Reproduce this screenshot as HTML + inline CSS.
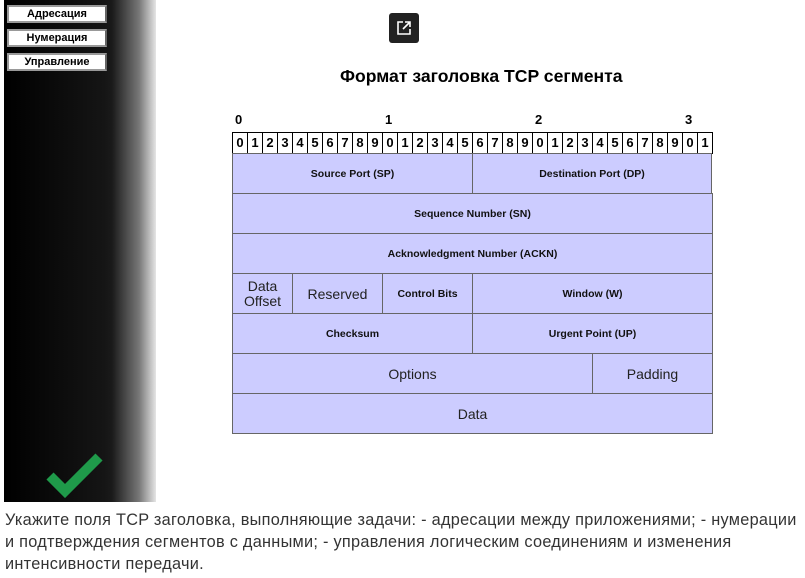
<!DOCTYPE html>
<html><head><meta charset="utf-8"><style>
body{margin:0;width:805px;height:578px;background:#fff;position:relative;overflow:hidden;font-family:"Liberation Sans",sans-serif}
.a{position:absolute;box-sizing:border-box}
.panel{left:4px;top:0;width:152px;height:502px;background:linear-gradient(to right,#000 0,#151515 100px,#1a1a1a 108px,#777 135px,#fff 156px)}
.btn{left:7px;width:100px;height:18px;background:#fff;border:2px solid #999;border-right:2px solid #666;font-size:11px;font-weight:bold;text-align:center;line-height:14px;color:#000}
.c{background:#ccccff;border:1px solid #666;display:flex;align-items:center;justify-content:center;text-align:center;font-size:10.5px;font-weight:bold;color:#111}
.n{font-weight:normal;font-size:14px;color:#222}
.bit{top:132px;height:22px;width:16px;border:1px solid #000;font-size:13px;font-weight:bold;text-align:center;line-height:20px;background:#fff}
.top{top:112px;font-size:13px;font-weight:bold}
</style></head><body>
<div class="a panel"></div>
<div class="a btn" style="top:5px">Адресация</div>
<div class="a btn" style="top:29px">Нумерация</div>
<div class="a btn" style="top:53px">Управление</div>
<svg class="a" style="left:44px;top:448px" width="62" height="50"><polyline points="6,28 21,43 55,9" fill="none" stroke="#1f9a4a" stroke-width="10"/></svg>
<div class="a" style="left:389px;top:13px;width:30px;height:30px;background:#222;border-radius:3px"></div>
<svg class="a" style="left:395px;top:19px" width="18" height="18"><path d="M8 3H3v12h12v-5" fill="none" stroke="#fff" stroke-width="1.6"/><path d="M10 3h5v5M15 3l-7 7" fill="none" stroke="#fff" stroke-width="1.6"/></svg>
<div class="a" style="left:340px;top:66px;font-size:17.6px;font-weight:bold">Формат заголовка TCP сегмента</div>
<div class="a top" style="left:235px">0</div>
<div class="a top" style="left:385px">1</div>
<div class="a top" style="left:535px">2</div>
<div class="a top" style="left:685px">3</div>
<div id="bits"></div>
<script>
var s='';for(var i=0;i<32;i++){s+='<div class="a bit" style="left:'+(232+i*15)+'px">'+(i%10)+'</div>';}
document.getElementById('bits').outerHTML=s;
</script>
<div class="a c" style="left:232px;top:153px;width:241px;height:41px">Source Port (SP)</div>
<div class="a c" style="left:472px;top:153px;width:240px;height:41px">Destination Port (DP)</div>
<div class="a c" style="left:232px;top:193px;width:481px;height:41px">Sequence Number (SN)</div>
<div class="a c" style="left:232px;top:233px;width:481px;height:41px">Acknowledgment Number (ACKN)</div>
<div class="a c n" style="left:232px;top:273px;width:61px;height:41px;line-height:15px;border-right-color:#000">Data<br>Offset</div>
<div class="a c n" style="left:292px;top:273px;width:91px;height:41px">Reserved</div>
<div class="a c" style="left:382px;top:273px;width:91px;height:41px">Control Bits</div>
<div class="a c" style="left:472px;top:273px;width:241px;height:41px">Window (W)</div>
<div class="a c" style="left:232px;top:313px;width:241px;height:41px">Checksum</div>
<div class="a c" style="left:472px;top:313px;width:241px;height:41px">Urgent Point (UP)</div>
<div class="a c n" style="left:232px;top:353px;width:361px;height:41px">Options</div>
<div class="a c n" style="left:592px;top:353px;width:121px;height:41px">Padding</div>
<div class="a c n" style="left:232px;top:393px;width:481px;height:41px">Data</div>
<div class="a" style="left:5px;top:509px;width:805px;font-size:16.3px;line-height:22px;color:#333;letter-spacing:0.28px;white-space:nowrap">Укажите поля TCP заголовка, выполняющие задачи: - адресации между приложениями; - нумерации<br>и подтверждения сегментов с данными; - управления логическим соединениям и изменения<br>интенсивности передачи.</div>
</body></html>
